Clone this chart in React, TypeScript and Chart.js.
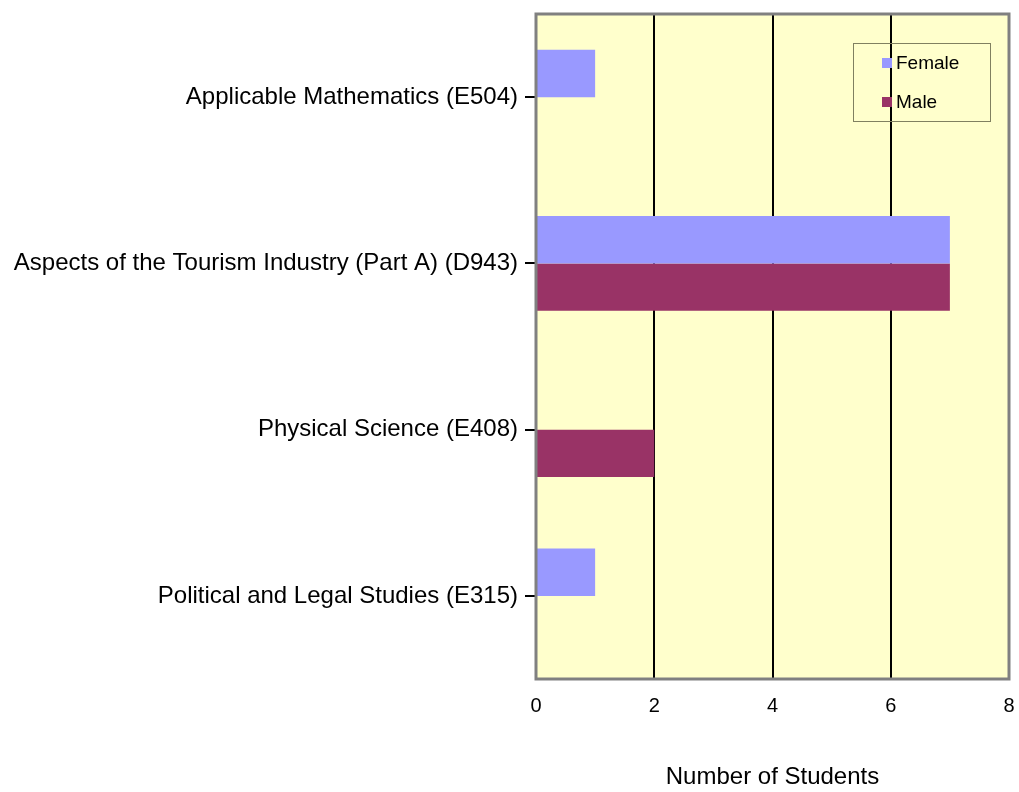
import React, { useEffect, useRef } from "react";
import { Chart, registerables } from "chart.js";

Chart.register(...registerables);

const categories = [
  "Applicable Mathematics (E504)",
  "Aspects of the Tourism Industry (Part A) (D943)",
  "Physical Science (E408)",
  "Political and Legal Studies (E315)",
];
const femaleValues = [1, 7, 0, 1];
const maleValues = [0, 7, 2, 0];
const seriesNames = ["Female", "Male"];
const seriesColors = ["#9999FF", "#993366"];
const xTicks = [0, 2, 4, 6, 8];
const xTitle = "Number of Students";

const FONT = "'Liberation Sans', Arial, Helvetica, sans-serif";

const plotDecor = {
  id: "plotDecor",
  beforeDraw(chart: any) {
    const { ctx, chartArea: a } = chart;
    ctx.save();
    ctx.fillStyle = "#FFFFCC";
    ctx.fillRect(a.left, a.top, a.right - a.left, a.bottom - a.top);
    ctx.restore();
  },
  beforeDatasetsDraw(chart: any) {
    const { ctx, chartArea: a } = chart;
    const bw = 137, bh = 78;
    const bx = a.right - 19 - bw;
    const by = a.top + 29;
    ctx.save();
    ctx.strokeStyle = "#808060";
    ctx.lineWidth = 1;
    ctx.strokeRect(bx + 0.5, by + 0.5, bw, bh);
    ctx.font = `19px ${FONT}`;
    ctx.textBaseline = "middle";
    ctx.textAlign = "left";
    seriesNames.forEach((name, i) => {
      const cy = by + 20 + i * 39;
      ctx.fillStyle = seriesColors[i];
      ctx.fillRect(bx + 29, cy - 5, 10, 10);
      ctx.fillStyle = "#000";
      ctx.fillText(name, bx + 43, cy + 1);
    });
    ctx.restore();
  },
  afterDraw(chart: any) {
    const { ctx, chartArea: a } = chart;
    ctx.save();
    ctx.strokeStyle = "#808080";
    ctx.lineWidth = 3;
    ctx.strokeRect(a.left, a.top, a.right - a.left, a.bottom - a.top);
    ctx.restore();
  },
};

export default function App() {
  const ref = useRef<HTMLCanvasElement>(null);
  useEffect(() => {
    document.body.style.margin = "0";
    const chart = new Chart(ref.current!, {
      type: "bar",
      data: {
        labels: categories,
        datasets: [
          {
            label: seriesNames[0],
            data: femaleValues,
            backgroundColor: seriesColors[0],
            barPercentage: 1,
            categoryPercentage: 0.57,
          },
          {
            label: seriesNames[1],
            data: maleValues,
            backgroundColor: seriesColors[1],
            barPercentage: 1,
            categoryPercentage: 0.57,
          },
        ],
      },
      options: {
        indexAxis: "y",
        animation: false,
        responsive: true,
        maintainAspectRatio: false,
        layout: { padding: { top: 14, right: 10, left: 0, bottom: 0 } },
        plugins: { legend: { display: false }, tooltip: { enabled: false } },
        scales: {
          x: {
            min: 0,
            max: 8,
            afterBuildTicks: (s: any) => {
              s.ticks = xTicks.map((v) => ({ value: v }));
            },
            afterFit: (s: any) => {
              s.height = 113;
              s.paddingLeft = 0;
              s.paddingRight = 0;
            },
            grid: { color: "#000", lineWidth: 2, drawTicks: false },
            border: { display: false },
            ticks: { color: "#000", font: { family: FONT, size: 20 }, padding: 15 },
            title: {
              display: true,
              text: xTitle,
              color: "#000",
              font: { family: FONT, size: 24 },
              padding: { top: 0, bottom: 0 },
            },
          },
          y: {
            afterFit: (s: any) => {
              s.width = 536;
              s.paddingTop = 0;
              s.paddingBottom = 0;
            },
            grid: {
              offset: false,
              drawOnChartArea: false,
              color: "#000",
              lineWidth: 2,
              tickLength: 11,
            },
            border: { display: false },
            ticks: { color: "#000", font: { family: FONT, size: 24 }, padding: 7 },
          },
        },
      },
      plugins: [plotDecor],
    });
    return () => chart.destroy();
  }, []);
  return (
    <div style={{ position: "absolute", left: 0, top: 0, width: 1019, height: 792 }}>
      <canvas ref={ref} />
    </div>
  );
}
